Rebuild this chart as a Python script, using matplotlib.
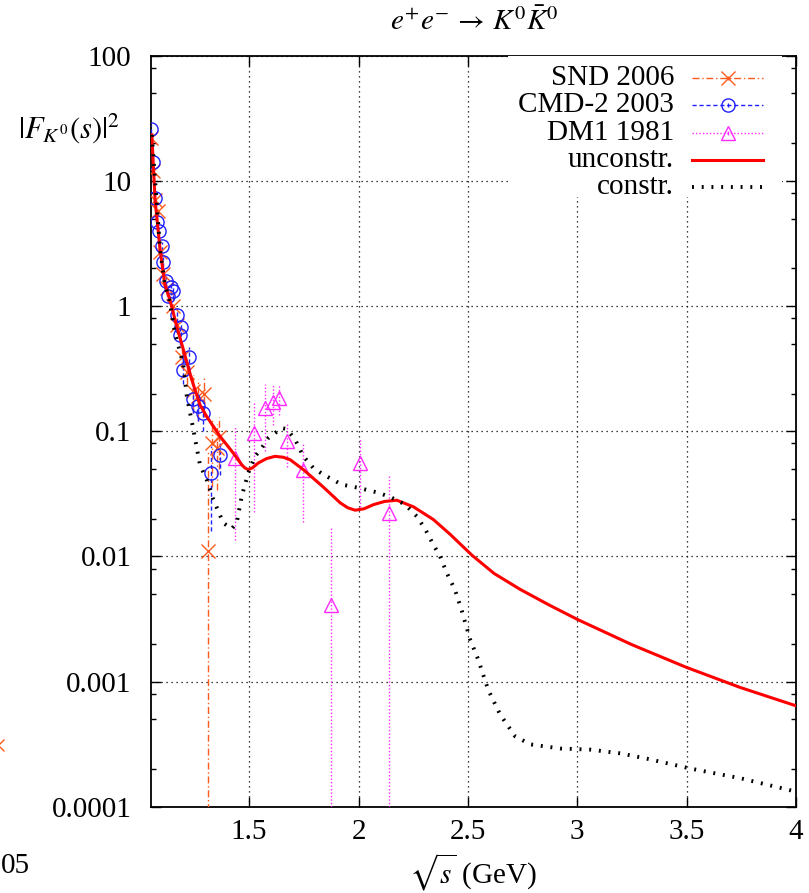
import numpy as np
import matplotlib
matplotlib.use("Agg")
import matplotlib.pyplot as plt
from matplotlib.lines import Line2D
from matplotlib.patches import Rectangle
from matplotlib.ticker import LogLocator, FixedLocator, NullFormatter, FixedFormatter

plt.rcParams['font.family'] = ['Liberation Serif', 'DejaVu Serif']
plt.rcParams['mathtext.fontset'] = 'stix'

# SND 2006
snd_x = [1.050, 1.059, 1.070, 1.083, 1.093, 1.108, 1.125, 1.153, 1.170, 1.192,
         1.215, 1.245, 1.268, 1.294, 1.313, 1.329, 1.352, 1.360]
snd_y = [22, 12, 7.0, 5.7, 2.7, 1.8, 1.4, 1.0, 0.7, 0.39,
         0.30, 0.21, 0.19, 0.20, 0.011, 0.081, 0.074, 0.09]
snd_err = [2, 1, 0.6, 0.5, 0.3, 0.2, 0.2, 0.15, 0.1, 0.07,
           0.06, 0.07, 0.07, 0.07, 0.06, 0.045, 0.04, 0.04]

# CMD-2 2003
cmd_x = [1.050, 1.059, 1.070, 1.079, 1.088, 1.100, 1.106, 1.120, 1.129, 1.141, 1.152,
         1.170, 1.184, 1.187, 1.198, 1.225, 1.243, 1.266, 1.289, 1.326, 1.367]
cmd_y = [26, 14.1, 7.3, 4.7, 4.0, 3.0, 2.25, 1.6, 1.2, 1.43, 1.33,
         0.85, 0.59, 0.68, 0.31, 0.39, 0.18, 0.16, 0.14, 0.046, 0.065]
cmd_err = [2, 1, 0.5, 0.35, 0.3, 0.25, 0.2, 0.15, 0.12, 0.2, 0.2,
           0.12, 0.1, 0.1, 0.07, 0.08, 0.04, 0.04, 0.04, 0.03, 0.02]

# DM1 1981
dm1_x = [1.435, 1.522, 1.573, 1.609, 1.637, 1.674, 1.747, 1.874, 2.007, 2.140]
dm1_y = [0.0615, 0.0975, 0.154, 0.172, 0.185, 0.083, 0.049, 0.0041, 0.056, 0.0224]
dm1_err = [0.048, 0.075, 0.085, 0.06, 0.05, 0.031, 0.03, 0.013, 0.031, 0.023]

# fit curves
unc_x = [1.055, 1.070, 1.093, 1.115, 1.138, 1.169, 1.199, 1.237, 1.275, 1.306,
         1.367, 1.426, 1.466, 1.480, 1.496, 1.515, 1.542, 1.580, 1.618, 1.655, 1.687,
         1.748, 1.839, 1.916, 1.950, 1.984, 2.025, 2.068, 2.120, 2.175, 2.251,
         2.342, 2.419, 2.519, 2.620, 2.739, 2.870, 3.0, 3.247,
         3.498, 3.745, 4.0]
unc_y = [23.3, 7.0, 2.8, 1.48, 1.12, 0.69, 0.45, 0.26, 0.163, 0.131,
         0.091, 0.0674, 0.054, 0.0510, 0.0493, 0.0510, 0.0558, 0.0605, 0.063, 0.0620, 0.0593,
         0.0493, 0.0358, 0.0268, 0.0245, 0.0234, 0.0240, 0.0259, 0.0275, 0.0281, 0.0249,
         0.0197, 0.0150, 0.0102, 0.0073, 0.00545, 0.0041, 0.00314, 0.00198,
         0.0013, 0.000897, 0.00064]

con_x = [1.055, 1.093, 1.115, 1.135, 1.161, 1.199, 1.215, 1.245, 1.275, 1.306,
         1.336, 1.382, 1.420, 1.443, 1.466, 1.496, 1.527, 1.558, 1.588, 1.649,
         1.672, 1.710, 1.748, 1.793, 1.839, 1.923, 1.999, 2.083, 2.144, 2.213,
         2.266, 2.304, 2.342, 2.373, 2.403, 2.441, 2.473, 2.510, 2.547, 2.592,
         2.647, 2.716, 2.785, 2.922, 3.059, 3.196, 3.333, 3.516, 3.745, 4.0]
con_y = [23.3, 2.8, 1.48, 1.12, 0.61, 0.34, 0.19, 0.103, 0.054, 0.041,
         0.0285, 0.0185, 0.0166, 0.0185, 0.0302, 0.0464, 0.063, 0.0736, 0.0885, 0.106,
         0.104, 0.0857, 0.063, 0.0509, 0.0451, 0.0375, 0.0353, 0.0325, 0.0299, 0.026,
         0.0209, 0.0166, 0.0124, 0.0100, 0.0074, 0.0054, 0.00363, 0.00217, 0.0015, 0.000865,
         0.000546, 0.000365, 0.000315, 0.000292, 0.000286, 0.000267, 0.000239, 0.000202, 0.000169, 0.000132]

c_snd = '#ff5a1e'
c_cmd = '#1f1fff'
c_dm1 = '#ff2aff'

fig = plt.figure(figsize=(8.09, 8.93), dpi=100)
ax = fig.add_axes([0.1863, 0.0966, 0.7977, 0.841])
ax.set_yscale('log')
ax.set_xlim(1.05, 4.0)
ax.set_ylim(1e-4, 100)


def draw_set(x, y, err, color, ls, marker, ms):
    x = np.array(x)
    y = np.array(y)
    err = np.array(err)
    lo = np.where(err >= y, y - 1e-8, err)
    eb = ax.errorbar(x, y, yerr=[lo, err], fmt=marker, color=color, mfc='none',
                     ms=ms, mew=1.0, elinewidth=1.0, capsize=0, zorder=4)
    eb[2][0].set_linestyle(ls)


draw_set(snd_x, snd_y, snd_err, c_snd, (0, (5, 2, 1, 2)), 'x', 9.5)
draw_set(cmd_x, cmd_y, cmd_err, c_cmd, (0, (3, 2)), 'o', 9.5)
draw_set(dm1_x, dm1_y, dm1_err, c_dm1, (0, (1, 1.5)), '^', 9.5)

ax.plot(unc_x, unc_y, color='#ff0000', lw=2.2, zorder=5)
ax.plot(con_x, con_y, color='black', lw=2.8, ls=(0, (0.5, 2.0)), zorder=6)

# axes and ticks
ax.xaxis.set_major_locator(FixedLocator([1.5, 2, 2.5, 3, 3.5, 4]))
ax.set_xticklabels(['1.5', '2', '2.5', '3', '3.5', '4'])
ax.yaxis.set_major_locator(FixedLocator([1e-4, 1e-3, 1e-2, 0.1, 1, 10, 100]))
ax.yaxis.set_major_formatter(FixedFormatter(['0.0001', '0.001', '0.01', '0.1', '1', '10', '100']))
ax.yaxis.set_minor_locator(LogLocator(base=10, subs=[2, 5, 8]))
ax.yaxis.set_minor_formatter(NullFormatter())
ax.tick_params(which='both', direction='in', top=True, right=True, labelsize=21, width=1.0)
ax.tick_params(which='major', length=7)
ax.tick_params(which='minor', length=3.5)
ax.tick_params(axis='y', pad=14)
ax.tick_params(axis='x', pad=9)
for s in ax.spines.values():
    s.set_linewidth(1.3)

ax.grid(True, which='major', color='black', lw=0.9, ls=(0, (1, 3)), zorder=1)

ax.set_xlabel(r'$\sqrt{s}$ (GeV)', fontsize=21, labelpad=4)
ax.text(-0.0476, 0.9037, r'$|F_{K^0}(s)|^2$', transform=ax.transAxes,
        ha='right', va='center', fontsize=22)
fig.text(474 / 809, 1 - 22 / 893, r'$e^{+}e^{-}\,\rightarrow\,K^0\bar{K}^0$',
         ha='center', va='center', fontsize=21)

# legend, drawn by hand so the labels sit right-aligned like the original
ax.add_patch(Rectangle((0.5536, 0.812), 0.4244, 0.188, transform=ax.transAxes,
                       facecolor='white', edgecolor='none', zorder=7))
leg_labels = ['SND 2006', 'CMD-2 2003', 'DM1 1981', 'unconstr.', 'constr.']
leg_y0 = 0.9703
leg_dy = 0.03635
x_txt, x_a, x_b = 0.8109, 0.8389, 0.9487
x_m = (x_a + x_b) / 2
styles = [
    dict(color=c_snd, lw=1.0, ls=(0, (5, 2, 1, 2))),
    dict(color=c_cmd, lw=1.0, ls=(0, (3, 2))),
    dict(color=c_dm1, lw=1.0, ls=(0, (1, 1.5))),
    dict(color='#ff0000', lw=2.2, ls='-'),
    dict(color='black', lw=2.8, ls=(0, (0.5, 2.0))),
]
markers = ['x', 'o', '^', None, None]
for i, lab in enumerate(leg_labels):
    yy = leg_y0 - i * leg_dy
    ax.text(x_txt, yy, lab, transform=ax.transAxes, ha='right', va='center',
            fontsize=21, zorder=8)
    ax.add_line(Line2D([x_a, x_b], [yy, yy], transform=ax.transAxes, zorder=8, **styles[i]))
    if markers[i]:
        ax.add_line(Line2D([x_m], [yy], transform=ax.transAxes, marker=markers[i],
                           color=styles[i]['color'], mfc='none', ms=9.5, mew=1.0,
                           ls='none', zorder=8))
        ax.add_line(Line2D([x_m], [yy], transform=ax.transAxes, marker='|',
                           color=styles[i]['color'], ms=3, mew=1.0, ls='none', zorder=8))

# fragments of the neighbouring panel at the left edge
fig.text(1 / 809, 1 - 866 / 893, '05', ha='left', va='center', fontsize=21)
fig.add_artist(Line2D([-2 / 809], [1 - 745 / 893], transform=fig.transFigure,
                      marker='x', color=c_snd, ms=9, mew=1.0, ls='none'))

fig.savefig('out.png', dpi=100)
